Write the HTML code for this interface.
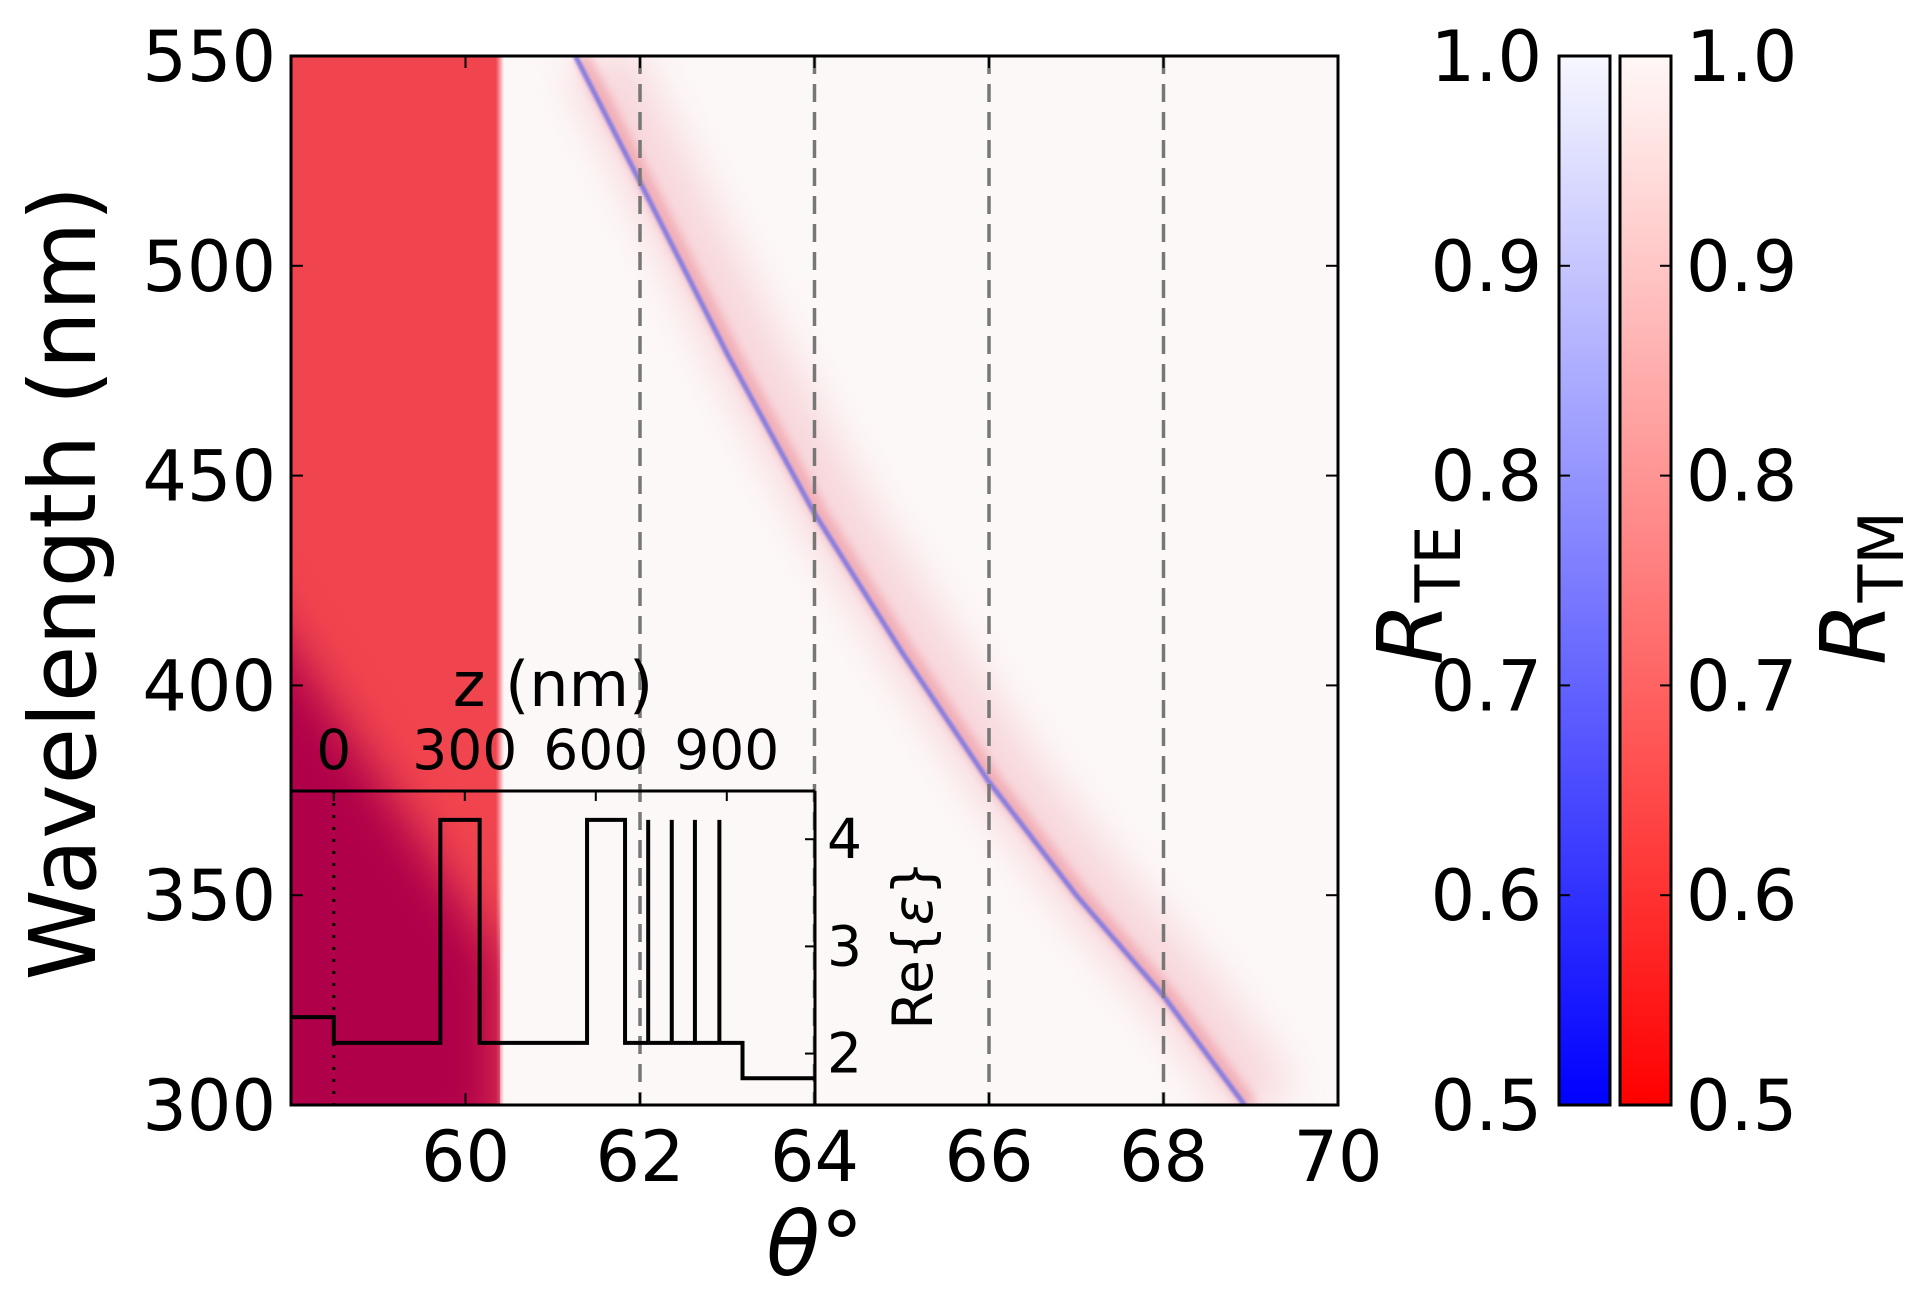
<!DOCTYPE html>
<html><head><meta charset="utf-8"><style>
html,body{margin:0;padding:0;background:#fff;}
svg{display:block;font-family:"DejaVu Sans","Liberation Sans",sans-serif;}
</style></head><body>
<svg id="chart" width="1920" height="1290" viewBox="0 0 1920 1290" xmlns="http://www.w3.org/2000/svg">
<defs>
<filter id="blur8" x="-30%" y="-30%" width="160%" height="160%"><feGaussianBlur stdDeviation="24"/></filter>
<filter id="blurWide" x="-20%" y="-20%" width="140%" height="140%"><feGaussianBlur stdDeviation="22"/></filter>
<filter id="blur4"><feGaussianBlur stdDeviation="5"/></filter>
<filter id="blur1"><feGaussianBlur stdDeviation="1.2"/></filter>
<linearGradient id="edgeFade" x1="0" x2="1" y1="0" y2="0">
<stop offset="0" stop-color="#f0444f" stop-opacity="1"/><stop offset="1" stop-color="#f0444f" stop-opacity="0"/></linearGradient>
<linearGradient id="teGrad" x1="0" x2="0" y1="1" y2="0">
<stop offset="0" stop-color="#0000ff"/><stop offset="1" stop-color="#f7f7ff"/></linearGradient>
<linearGradient id="tmGrad" x1="0" x2="0" y1="1" y2="0">
<stop offset="0" stop-color="#ff0000"/><stop offset="1" stop-color="#fff8f7"/></linearGradient>
<clipPath id="plotClip"><rect x="291" y="56" width="1047" height="1049"/></clipPath>
<clipPath id="redClip"><rect x="291" y="56" width="209" height="1049"/></clipPath>
</defs>
<g id="plot" clip-path="url(#plotClip)"></g>
<g id="axes"></g>
</svg>
<script>
const thetaRange = [58, 70];
const wlRange = [300, 550];
const xTicks = [60, 62, 64, 66, 68, 70];
const yTicks = [300, 350, 400, 450, 500, 550];
const dashedThetas = [62, 64, 66, 68];
const modeTheta = [61.26, 62, 63, 64, 65, 66, 67, 68, 68.93];
const modeWl = [550, 520, 479, 441, 408, 377, 350, 326, 300];
const redEdgeTheta = 60.35;
const darkRegionTheta = [57, 57, 60.4, 60.4];
const darkRegionWl = [440, 290, 290, 335];
const insetZRange = [-98, 1102];
const insetEpsRange = [1.52, 4.45];
const zTicks = [0, 300, 600, 900];
const epsTicks = [2, 3, 4];
const profileZ = [-98, 0, 0, 244, 244, 334, 334, 580, 580, 667, 667, 720, 720, 720, 774, 774, 774, 827, 827, 827, 883, 883, 883, 936, 936, 1102];
const profileEps = [2.34, 2.34, 2.1, 2.1, 4.18, 4.18, 2.1, 2.1, 4.18, 4.18, 2.1, 2.1, 4.18, 2.1, 2.1, 4.18, 2.1, 2.1, 4.18, 2.1, 2.1, 4.18, 2.1, 2.1, 1.77, 1.77];
const cbTicks = [0.5, 0.6, 0.7, 0.8, 0.9, 1.0];
const cbTickLabels = ["0.5", "0.6", "0.7", "0.8", "0.9", "1.0"];

const NS = "http://www.w3.org/2000/svg";
const P = {l: 291, r: 1338, t: 56, b: 1105};
const X = v => P.l + (v - thetaRange[0]) / (thetaRange[1] - thetaRange[0]) * (P.r - P.l);
const Y = v => P.b - (v - wlRange[0]) / (wlRange[1] - wlRange[0]) * (P.b - P.t);
const I = {l: 291, r: 815, t: 791, b: 1105};
const IX = v => I.l + (v - insetZRange[0]) / (insetZRange[1] - insetZRange[0]) * (I.r - I.l);
const IY = v => I.b - (v - insetEpsRange[0]) / (insetEpsRange[1] - insetEpsRange[0]) * (I.b - I.t);
const CB = {t: 56, b: 1105};
const CY = v => CB.b - (v - 0.5) / 0.5 * (CB.b - CB.t);

function mk(tag, attrs, parent, text) {
  const e = document.createElementNS(NS, tag);
  for (const k in attrs) e.setAttribute(k, attrs[k]);
  if (text !== undefined) e.textContent = text;
  parent.appendChild(e);
  return e;
}
const plot = document.getElementById('plot');
const axes = document.getElementById('axes');

let e = mk('rect', {x: P.l, y: P.t, width: P.r - P.l, height: P.b - P.t, fill: '#fdf8f8'}, plot);


e = mk('rect', {x: P.l, y: P.t, width: X(redEdgeTheta) - P.l, height: P.b - P.t, fill: '#f0444f'}, plot);


e = mk('rect', {x: X(redEdgeTheta), y: P.t, width: 8, height: P.b - P.t, fill: 'url(#edgeFade)'}, plot);


const redG = mk('g', {'clip-path': 'url(#redClip)'}, plot);
const dpts = darkRegionTheta.map((t, i) => X(t) + ',' + Y(darkRegionWl[i])).join(' ');
e = mk('polygon', {points: dpts, fill: '#b0004a', filter: 'url(#blur8)'}, redG);



const modePts = modeTheta.map((t, i) => X(t) + ',' + Y(modeWl[i])).join(' ');
const glowPts = modeTheta.map((t, i) => (X(t) + 22) + ',' + Y(modeWl[i])).join(' ');
const nearPts = modeTheta.map((t, i) => (X(t) + 6) + ',' + Y(modeWl[i])).join(' ');
e = mk('polyline', {points: glowPts, fill: 'none', stroke: '#f4c8ce', 'stroke-width': 70, opacity: 0.7, filter: 'url(#blurWide)'}, plot);


e = mk('polyline', {points: nearPts, fill: 'none', stroke: '#e87080', 'stroke-width': 14, opacity: 0.45, filter: 'url(#blur4)'}, plot);


e = mk('polyline', {points: modePts, fill: 'none', stroke: '#8278e0', 'stroke-width': 5, opacity: 0.95, filter: 'url(#blur1)'}, plot);



dashedThetas.forEach(t => {
  const l = mk('line', {x1: X(t), x2: X(t), y1: P.t, y2: P.b, stroke: '#777', 'stroke-width': 3.5, 'stroke-dasharray': '18,10'}, plot);
  
  
});

e = mk('line', {x1: I.l, x2: I.r, y1: I.t, y2: I.t, stroke: '#000', 'stroke-width': 3}, axes);


e = mk('line', {x1: I.r, x2: I.r, y1: I.t, y2: I.b, stroke: '#000', 'stroke-width': 3}, axes);


zTicks.forEach(z => {
  let t = mk('line', {x1: IX(z), x2: IX(z), y1: I.t, y2: I.t + 10, stroke: '#000', 'stroke-width': 2}, axes);
  
  
  t = mk('text', {x: IX(z), y: I.t - 22, 'font-size': 55, 'text-anchor': 'middle'}, axes, String(z));
  
  
});
epsTicks.forEach(v => {
  let t = mk('line', {x1: I.r - 10, x2: I.r, y1: IY(v), y2: IY(v), stroke: '#000', 'stroke-width': 2}, axes);
  
  
  t = mk('text', {x: I.r + 12, y: IY(v) + 19, 'font-size': 55}, axes, String(v));
  
  
});
e = mk('text', {x: 553, y: 706, 'font-size': 62, 'text-anchor': 'middle'}, axes, 'z (nm)');


e = mk('text', {x: 0, y: 0, 'font-size': 55, 'text-anchor': 'middle', transform: 'translate(932,945) rotate(-90)'}, axes);


mk('tspan', {}, e, 'Re{');
mk('tspan', {'font-style': 'italic'}, e, 'ε');
mk('tspan', {}, e, '}');
e = mk('line', {x1: IX(0), x2: IX(0), y1: I.t, y2: I.b, stroke: '#000', 'stroke-width': 3, 'stroke-dasharray': '3,9'}, axes);


const profPts = profileZ.map((z, i) => IX(z) + ',' + IY(profileEps[i])).join(' ');
e = mk('polyline', {points: profPts, fill: 'none', stroke: '#000', 'stroke-width': 4, 'stroke-linejoin': 'miter'}, axes);



e = mk('rect', {x: P.l, y: P.t, width: P.r - P.l, height: P.b - P.t, fill: 'none', stroke: '#000', 'stroke-width': 3}, axes);


xTicks.forEach(v => {
  let t = mk('line', {x1: X(v), x2: X(v), y1: P.b - 12, y2: P.b, stroke: '#000', 'stroke-width': 2}, axes);
  
  
  t = mk('line', {x1: X(v), x2: X(v), y1: P.t, y2: P.t + 12, stroke: '#000', 'stroke-width': 2}, axes);
  
  
  t = mk('text', {x: X(v), y: 1181, 'font-size': 70, 'text-anchor': 'middle'}, axes, String(v));
  
  
});
yTicks.forEach(v => {
  let t = mk('line', {x1: P.l, x2: P.l + 12, y1: Y(v), y2: Y(v), stroke: '#000', 'stroke-width': 2}, axes);
  
  
  t = mk('line', {x1: P.r - 12, x2: P.r, y1: Y(v), y2: Y(v), stroke: '#000', 'stroke-width': 2}, axes);
  
  
  t = mk('text', {x: 276, y: Y(v) + 25, 'font-size': 70, 'text-anchor': 'end'}, axes, String(v));
  
  
});
e = mk('text', {x: 0, y: 0, 'font-size': 92, 'text-anchor': 'middle', transform: 'translate(95,583) rotate(-90)'}, axes, 'Wavelength (nm)');


e = mk('text', {x: 815, y: 1275, 'font-size': 88, 'text-anchor': 'middle'}, axes);


mk('tspan', {'font-style': 'italic'}, e, 'θ');
mk('tspan', {}, e, '°');

const bars = [{x: 1559, fill: 'url(#teGrad)', name: 'te'}, {x: 1620, fill: 'url(#tmGrad)', name: 'tm'}];
bars.forEach(b => {
  const r = mk('rect', {x: b.x, y: CB.t, width: 51, height: CB.b - CB.t, fill: b.fill, stroke: '#000', 'stroke-width': 3}, axes);
  
  
});
cbTicks.forEach((v, i) => {
  let t = mk('line', {x1: 1559, x2: 1570, y1: CY(v), y2: CY(v), stroke: '#000', 'stroke-width': 2}, axes);
  
  
  t = mk('line', {x1: 1660, x2: 1671, y1: CY(v), y2: CY(v), stroke: '#000', 'stroke-width': 2}, axes);
  
  
  t = mk('text', {x: 1542, y: CY(v) + 25, 'font-size': 70, 'text-anchor': 'end'}, axes, cbTickLabels[i]);
  
  
  t = mk('text', {x: 1686, y: CY(v) + 25, 'font-size': 70}, axes, cbTickLabels[i]);
  
  
});
e = mk('text', {x: 0, y: 0, 'font-size': 90, transform: 'translate(1442,665) rotate(-90)'}, axes);


mk('tspan', {'font-style': 'italic'}, e, 'R');
mk('tspan', {'font-size': 62, dy: 18}, e, 'TE');
e = mk('text', {x: 0, y: 0, 'font-size': 90, transform: 'translate(1885,665) rotate(-90)'}, axes);


mk('tspan', {'font-style': 'italic'}, e, 'R');
mk('tspan', {'font-size': 62, dy: 18}, e, 'TM');
</script>
</body></html>
